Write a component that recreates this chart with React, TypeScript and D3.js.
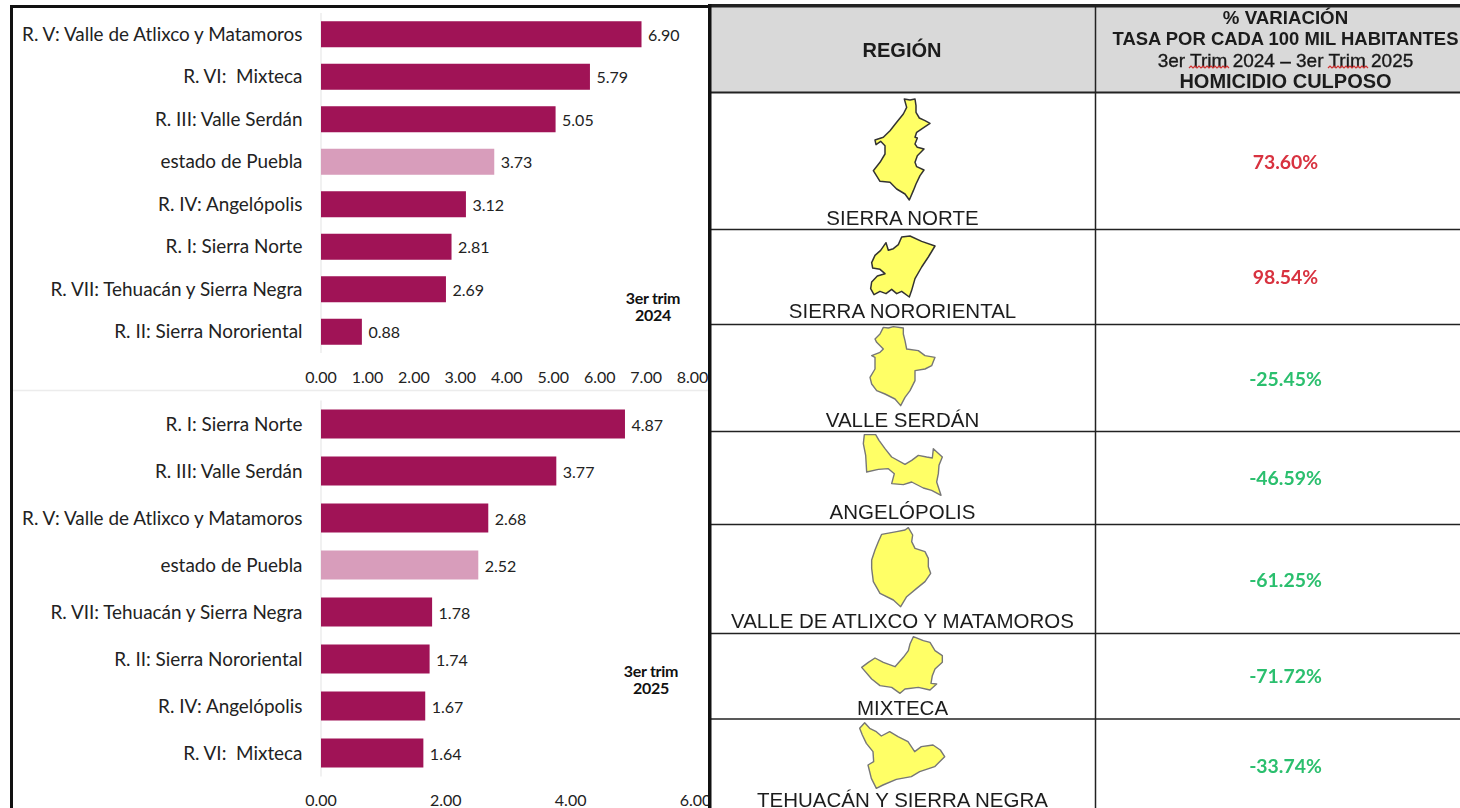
import React from "react";
import * as d3 from "d3";

const categories2024 = ["R. V: Valle de Atlixco y Matamoros","R. VI:  Mixteca","R. III: Valle Serdán","estado de Puebla","R. IV: Angelópolis","R. I: Sierra Norte","R. VII: Tehuacán y Sierra Negra","R. II: Sierra Nororiental"];
const values2024 = [6.90,5.79,5.05,3.73,3.12,2.81,2.69,0.88];
const categories2025 = ["R. I: Sierra Norte","R. III: Valle Serdán","R. V: Valle de Atlixco y Matamoros","estado de Puebla","R. VII: Tehuacán y Sierra Negra","R. II: Sierra Nororiental","R. IV: Angelópolis","R. VI:  Mixteca"];
const values2025 = [4.87,3.77,2.68,2.52,1.78,1.74,1.67,1.64];
const ticks2024 = [0,1,2,3,4,5,6,7,8];
const ticks2025 = [0,2,4,6];

const regionNames = ["SIERRA NORTE","SIERRA NORORIENTAL","VALLE SERDÁN","ANGELÓPOLIS","VALLE DE ATLIXCO Y MATAMOROS","MIXTECA","TEHUACÁN Y SIERRA NEGRA"];
const variation = ["73.60%","98.54%","-25.45%","-46.59%","-61.25%","-71.72%","-33.74%"];
const headerLines = ["% VARIACIÓN","TASA POR CADA 100 MIL HABITANTES","3er Trim 2024 – 3er Trim 2025","HOMICIDIO CULPOSO"];

type P = [number, number];
const outlineNorte: P[] = [[133,15],[150,18],[165,15],[168,35],[168,55],[178,72],[195,80],[210,88],[192,100],[170,115],[165,130],[172,132],[165,150],[172,160],[192,165],[172,185],[165,205],[170,218],[192,228],[180,245],[168,270],[160,290],[148,318],[135,300],[110,285],[90,265],[60,262],[40,230],[60,205],[75,180],[75,155],[62,142],[48,152],[45,138],[70,130],[90,110],[110,85],[130,60],[140,40]];
const outlineNororiental: P[] = [[125,15],[150,12],[185,28],[225,42],[205,75],[185,105],[165,140],[155,175],[148,195],[125,178],[110,185],[95,172],[78,185],[60,178],[42,188],[32,170],[35,150],[52,132],[75,125],[60,112],[38,108],[35,92],[45,70],[62,55],[78,32],[85,55],[100,50],[115,38]];
const outlineSerdan: P[] = [[70,10],[85,12],[100,8],[130,12],[130,30],[135,50],[140,75],[175,80],[195,95],[225,100],[215,125],[195,135],[165,140],[165,170],[150,200],[135,220],[122,245],[105,225],[75,210],[50,200],[35,180],[30,160],[45,135],[45,100],[35,95],[60,85],[70,75],[50,55],[45,45],[60,30]];
const outlineAngelopolis: P[] = [[28,8],[62,8],[72,25],[90,50],[110,75],[150,97],[170,85],[190,70],[215,75],[232,78],[235,50],[248,62],[262,75],[252,100],[250,125],[245,150],[258,190],[230,175],[205,168],[170,150],[145,158],[110,155],[118,125],[100,110],[70,112],[35,120],[32,70],[25,35]];
const outlineAtlixco: P[] = [[65,28],[110,20],[135,15],[145,8],[158,30],[155,50],[165,70],[195,80],[205,100],[205,125],[212,145],[195,170],[170,190],[140,215],[122,245],[100,225],[60,205],[40,170],[35,130],[35,105],[45,75],[55,50]];
const outlineMixteca: P[] = [[175,8],[205,20],[225,25],[240,50],[262,65],[262,85],[240,105],[232,125],[228,148],[245,150],[225,168],[190,160],[150,165],[135,178],[110,160],[75,155],[50,135],[20,100],[40,85],[60,72],[85,85],[120,98],[145,70],[160,50],[165,30]];
const outlineTehuacan: P[] = [[35,8],[50,25],[70,35],[85,48],[110,35],[135,50],[165,65],[185,95],[205,80],[240,75],[262,90],[275,110],[245,140],[200,155],[175,170],[130,178],[90,195],[70,205],[55,175],[45,135],[62,125],[60,95],[40,70],[28,45],[20,25]];
const outlines = [outlineNorte,outlineNororiental,outlineSerdan,outlineAngelopolis,outlineAtlixco,outlineMixteca,outlineTehuacan];

const LATO = "Lato, 'Open Sans', sans-serif";
const ARIAL = "'Liberation Sans', Arial, sans-serif";

function BarPanel({cats, vals, ticks, maxV, xEnd, top, bottom, pad, tickY, note, noteX, noteY}: any) {
  const x = d3.scaleLinear().domain([0, maxV]).range([321, xEnd]);
  const y = d3.scaleBand<string>().domain(cats).range([top, bottom]).paddingInner(pad).paddingOuter(pad / 2);
  return (
    <g>
      <line x1={321} x2={321} y1={top} y2={bottom} stroke="#e3e3e3" strokeWidth={1} />
      {cats.map((c: string, i: number) => {
        const cy = y(c)! + y.bandwidth() / 2;
        return (
          <g key={c}>
            <rect x={x(0)} y={y(c)} width={x(vals[i]) - x(0)} height={y.bandwidth()} fill={c === "estado de Puebla" ? "#d89dbb" : "#a01356"} />
            <text x={302.5} y={cy - 0.8} textAnchor="end" dominantBaseline="central" fontFamily={LATO} fontSize={18.9} fill="#222" xmlSpace="preserve">{c}</text>
            <text x={x(vals[i]) + 6.5} y={cy} dominantBaseline="central" fontFamily={LATO} fontSize={16} fill="#222">{vals[i].toFixed(2)}</text>
          </g>
        );
      })}
      {ticks.map((t: number) => (
        <text key={t} x={x(t)} y={tickY} textAnchor="middle" dominantBaseline="central" fontFamily={LATO} fontSize={16} fill="#222">{t.toFixed(2)}</text>
      ))}
      {note.map((n: string, i: number) => (
        <text key={n} x={noteX} y={noteY - 0.6 + i * 17.5} textAnchor="middle" dominantBaseline="central" fontFamily={LATO} fontWeight={700} fontSize={16} letterSpacing={-0.3} fill="#111">{n}</text>
      ))}
    </g>
  );
}

const rowLines = [92.5, 229.5, 324.5, 431.5, 524.5, 633.5, 719];
const nameY = [217.3, 310.3, 419.3, 511.3, 620.3, 707.3, 799.3];
const pctY = [161.2, 276.2, 378.2, 477.2, 579.2, 675.2, 765.2];
const mapBox = [[860,94],[860,232],[860,324],[855,432],[860,525],[855,634],[853,720]];

function Region({pts, ox, oy, dark}: {pts: P[]; ox: number; oy: number; dark: boolean}) {
  const sx = d3.scaleLinear().domain([0, 3]).range([ox, ox + 1]);
  const sy = d3.scaleLinear().domain([0, 3]).range([oy, oy + 1]);
  const path = d3.line<P>().x(d => sx(d[0])).y(d => sy(d[1])).curve(d3.curveLinearClosed)(pts)!;
  return <path d={path} fill="#ffff66" stroke={dark ? "#333" : "#777"} strokeWidth={dark ? 1.5 : 1.4} strokeLinejoin="round" filter="url(#soft)" />;
}

function wavy(x0: number, x1: number, y: number) {
  const pts: P[] = [];
  let up = false;
  for (let x = x0; x <= x1; x += 2) { pts.push([x, y + (up ? -1 : 1)]); up = !up; }
  return d3.line()(pts)!;
}

export default function App() {
  return (
    <svg width={1460} height={808} style={{position: "absolute", left: 0, top: 0, background: "#fff"}}>
      <defs>
        <filter id="soft" x="-10%" y="-10%" width="120%" height="120%"><feGaussianBlur stdDeviation="0.6" /></filter>
        <filter id="softText" x="-5%" y="-20%" width="110%" height="140%"><feGaussianBlur stdDeviation="0.35" /></filter>
      </defs>
      <BarPanel cats={categories2024} vals={values2024} ticks={ticks2024} maxV={8} xEnd={692.6} top={13} bottom={353} pad={0.388} tickY={376} note={["3er trim","2024"]} noteX={653} noteY={298} />
      <line x1={12} x2={708} y1={390.5} y2={390.5} stroke="#ececec" strokeWidth={1.5} />
      <BarPanel cats={categories2025} vals={values2025} ticks={ticks2025} maxV={6} xEnd={695.5} top={400.5} bottom={776.5} pad={0.383} tickY={799} note={["3er trim","2025"]} noteX={651} noteY={671} />

      {/* table */}
      <rect x={711} y={7} width={749} height={85} fill="#d9d9d9" />
      <rect x={711} y={93} width={749} height={715} fill="#fff" />
      <text x={902} y={50} textAnchor="middle" dominantBaseline="central" fontFamily={ARIAL} fontWeight={700} fontSize={20} fill="#1a1a1a" filter="url(#softText)">REGIÓN</text>
      {headerLines.map((h, i) => (
        <text key={h} x={1285.5} y={[17, 38.5, 60, 81][i]} textAnchor="middle" dominantBaseline="central" fontFamily={ARIAL} fontWeight={i === 2 ? 400 : 700} fontSize={[18.7, 18.45, 19, 20][i]} stroke={i === 2 ? "#1a1a1a" : "none"} strokeWidth={i === 2 ? 0.35 : 0} fill="#1a1a1a" filter="url(#softText)">{h}</text>
      ))}
      <path d={wavy(1189, 1229, 67)} fill="none" stroke="#d03030" strokeWidth={1.2} />
      <path d={wavy(1328, 1369, 67)} fill="none" stroke="#d03030" strokeWidth={1.2} />

      {outlines.map((o, i) => <Region key={i} pts={o} ox={mapBox[i][0]} oy={mapBox[i][1]} dark={i < 2} />)}
      {regionNames.map((n, i) => (
        <text key={n} x={902.5} y={nameY[i]} textAnchor="middle" dominantBaseline="central" fontFamily={ARIAL} fontSize={20.5} fill="#1f1f1f" filter="url(#softText)">{n}</text>
      ))}
      {variation.map((v, i) => (
        <text key={v} x={1285.5} y={pctY[i]} textAnchor="middle" dominantBaseline="central" fontFamily={LATO} fontWeight={700} fontSize={19.4} fill={v.startsWith("-") ? "#2cbf6e" : "#d8323f"} filter="url(#softText)">{v}</text>
      ))}
      {rowLines.map((y, i) => (
        <line key={y} x1={711} x2={1460} y1={y} y2={y} stroke="#222" strokeWidth={i === 0 ? 2 : 1.6} />
      ))}
      <line x1={1095.5} x2={1095.5} y1={6} y2={808} stroke="#222" strokeWidth={1.5} />

      {/* frame */}
      <rect x={0} y={0} width={8} height={808} fill="#fff" />
      <rect x={10} y={5} width={3} height={803} fill="#111" />
      <rect x={10} y={5} width={700} height={3} fill="#111" />
      <rect x={708} y={4} width={752} height={3.5} fill="#222" />
      <rect x={708} y={4} width={3.5} height={804} fill="#111" />
    </svg>
  );
}
